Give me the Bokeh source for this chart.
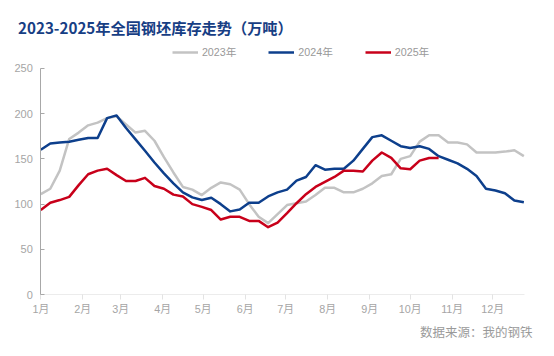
from bokeh.plotting import figure
from bokeh.models import Range1d, FixedTicker, Legend, LegendItem, Label
from bokeh.embed import file_html
from bokeh.resources import INLINE

# weekly samples, x = day of year of each weekly reading
weeks = list(range(52))
month_start_days = [0, 31, 59, 90, 120, 151, 181, 212, 243, 273, 304, 334]
month_labels = ["1月", "2月", "3月", "4月", "5月", "6月", "7月", "8月", "9月", "10月", "11月", "12月"]
y_ticks = [0, 50, 100, 150, 200, 250]

s2023 = [111, 117, 137, 172, 179, 187, 190, 195, 197, 188, 179, 181, 170, 152, 135, 119, 116, 110,
         118, 124, 122, 116, 100, 86, 79, 89, 99, 101, 103, 110, 118, 118, 113, 113, 117, 123, 131,
         133, 150, 153, 169, 176, 176, 168, 168, 166, 157, 157, 157, 158, 159.5, 153]
s2024 = [160, 167, 168, 169, 171, 173, 173, 195, 198, 184, 171.5, 159, 146, 134, 123, 113, 107.5,
         104.5, 107, 100, 92, 94, 101.5, 101.5, 108.5, 113, 116, 126, 130, 143, 138, 139, 139, 148,
         161, 174, 176, 170, 164, 162, 164, 161, 153, 149, 145, 139, 131, 117, 115, 112, 104, 102]
s2025 = [93.5, 101.5, 104.5, 108, 121, 133, 137, 139, 132, 125.5, 125.5, 129, 120, 117, 110.5, 108.5,
         100, 97, 93.5, 83, 86, 86, 81.5, 81.5, 74.5, 79.5, 90, 101, 111, 119, 124.5, 130, 137, 137,
         136, 148, 157, 151, 139.5, 138.5, 148, 151, 151]

series_names = ["2023年", "2024年", "2025年"]
colors = ["#c3c3c3", "#0d3f8c", "#c8001a"]

days_all = [w * 7 for w in weeks]

FONT = "Liberation Sans, Noto Sans CJK SC, sans-serif"

W, H = 538, 340
PX_PER_DAY = 1.3531
PX_PER_UNIT = 226.4 / 250
LEFT, BOTTOM = 40.3, 45.8   # canvas px from left / bottom edge to the data origin

x0 = -LEFT / PX_PER_DAY
y0 = -BOTTOM / PX_PER_UNIT
p = figure(width=W, height=H, output_backend="svg", toolbar_location=None,
           x_range=Range1d(x0, x0 + W / PX_PER_DAY), y_range=Range1d(y0, y0 + H / PX_PER_UNIT),
           min_border=0)
p.outline_line_color = None
p.background_fill_color = "white"
p.border_fill_color = "white"
p.grid.visible = False

renderers = []
for vals, c in zip([s2023, s2024, s2025], colors):
    r = p.line(days_all[:len(vals)], vals, line_color=c, line_width=2.5, line_join="round")
    renderers.append(r)

# axes
p.xaxis.fixed_location = 0
p.xaxis.bounds = (0, 357.5)
p.xaxis.ticker = FixedTicker(ticks=month_start_days)
p.xaxis.major_label_overrides = {d: l for d, l in zip(month_start_days, month_labels)}
p.xaxis.axis_line_color = "#ececec"
p.xaxis.major_tick_line_color = "#e3e3e3"
p.xaxis.major_tick_out = 5
p.xaxis.major_tick_in = 0
p.xaxis.minor_tick_line_color = None
p.xaxis.major_label_standoff = 3
p.xaxis.major_label_text_font = FONT
p.xaxis.major_label_text_font_size = "10.8px"
p.xaxis.major_label_text_color = "#a5a5a5"

p.yaxis.fixed_location = 0
p.yaxis.bounds = (0, 250)
p.yaxis.ticker = FixedTicker(ticks=y_ticks)
p.yaxis.axis_line_color = "#a8a8a8"
p.yaxis.major_tick_line_color = "#a8a8a8"
p.yaxis.major_tick_in = 4
p.yaxis.major_tick_out = 0
p.yaxis.minor_tick_line_color = None
p.yaxis.major_label_standoff = 8
p.yaxis.major_label_text_font = FONT
p.yaxis.major_label_text_font_size = "11px"
p.yaxis.major_label_text_color = "#a5a5a5"

# legend: position in screen px relative to the frame's bottom-left (frame = whole canvas)
legend = Legend(items=[LegendItem(label=n, renderers=[r]) for n, r in zip(series_names, renderers)],
                orientation="horizontal", location=(171.9, 280.8), padding=0, margin=0,
                spacing=32, glyph_width=26, glyph_height=12, label_height=12, label_standoff=4,
                label_text_font=FONT, label_text_font_size="10.7px", label_text_color="#999999",
                background_fill_alpha=0, border_line_alpha=0)
p.add_layout(legend, "center")

title = Label(x=17.5, y=H - 26.7, x_units="screen", y_units="screen",
              text="2023-2025年全国钢坯库存走势（万吨）",
              text_font="Noto Sans CJK SC", text_font_size="15.2px", text_font_style="bold",
              text_color="#173e84", text_baseline="alphabetic", text_align="left")
p.add_layout(title)

source = Label(x=532, y=H - 330.5, x_units="screen", y_units="screen", text="数据来源：我的钢铁",
               text_font="Noto Sans CJK SC", text_font_size="12.5px", text_color="#9a9a9a",
               text_baseline="alphabetic", text_align="right")
p.add_layout(source)

open("out.html", "w").write(file_html(p, INLINE))
